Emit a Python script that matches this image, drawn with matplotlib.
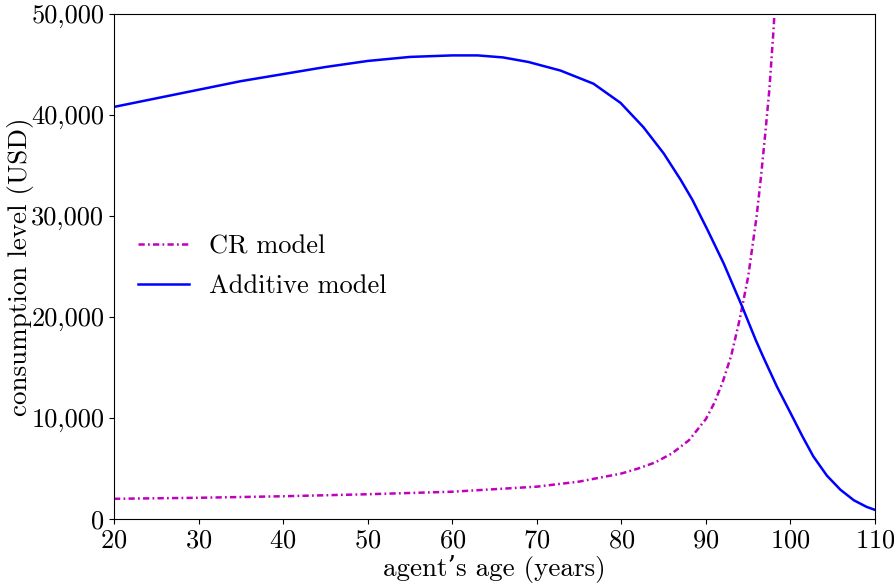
import numpy as np
import matplotlib
matplotlib.use("Agg")
import matplotlib.pyplot as plt
from matplotlib.ticker import FuncFormatter

# values
age_add = [20, 25, 30, 35, 40, 45, 50, 55, 60, 63, 66, 69, 72.8, 76.7, 79.9, 82.6,
           85.0, 87.0, 88.4, 90.2, 92.1, 94.3, 95.9, 96.8, 98.4, 100.0, 101.4, 102.7,
           104.3, 105.9, 107.5, 109.0, 110]
cons_add = [40800, 41650, 42500, 43350, 44050, 44750, 45350, 45750, 45900, 45900, 45700,
            45250, 44400, 43100, 41200, 38800, 36200, 33600, 31600, 28600, 25300, 21000,
            17700, 16000, 13100, 10500, 8200, 6200, 4300, 2900, 1850, 1200, 900]

age_cr = [20, 30, 40, 50, 60, 70, 75, 80, 82, 84, 86, 88, 90, 91, 92, 93, 94, 95, 96,
          96.5, 97, 97.5, 98, 98.1]
cons_cr = [2000, 2100, 2250, 2450, 2700, 3200, 3700, 4500, 5000, 5600, 6500, 7800, 9900,
           11500, 13600, 16200, 19800, 24000, 30000, 33800, 38000, 42500, 48500, 50000]

plt.rcParams['font.family'] = ['cmr10', 'DejaVu Serif']
plt.rcParams['axes.formatter.use_mathtext'] = True
plt.rcParams['mathtext.fontset'] = 'cm'

fig = plt.figure(figsize=(8.95, 5.83), dpi=100)
ax = fig.add_axes([0.1274, 0.1098, 0.8503, 0.8662])

ax.plot(age_cr, cons_cr, color='m', lw=1.8, dashes=[2.5, 1.3, 0.7, 1.3], label='CR model')
ax.plot(age_add, cons_add, 'b-', lw=1.8, label='Additive model')

ax.set_xlim(20, 110)
ax.set_ylim(0, 50000)
ax.set_xticks(np.arange(20, 111, 10))
ax.set_yticks(np.arange(0, 50001, 10000))
ax.yaxis.set_major_formatter(FuncFormatter(lambda v, p: '{:,.0f}'.format(v)))
ax.tick_params(labelsize=19)

ax.set_xlabel('agent\u2019s age (years)', fontsize=19.5, labelpad=2)
ax.set_ylabel('consumption level (USD)', fontsize=19.5)
ax.yaxis.set_label_coords(-0.105, 0.5)

ax.legend(loc='center left', bbox_to_anchor=(0.0, 0.50), frameon=False, fontsize=19,
          handlelength=1.95, labelspacing=0.6, handletextpad=0.75)

fig.savefig('out.png', dpi=100)
